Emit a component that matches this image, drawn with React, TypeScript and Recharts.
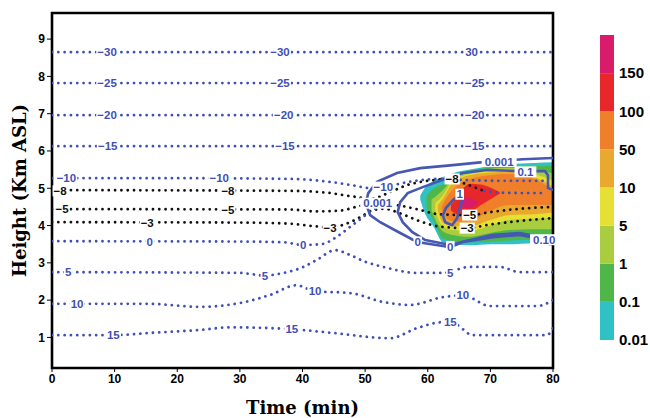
import {
  ComposedChart,
  BarChart,
  Bar,
  Line,
  Area,
  XAxis,
  YAxis,
  ReferenceDot,
  ReferenceArea,
} from 'recharts'

// axis ticks
const timeTicks = [0, 10, 20, 30, 40, 50, 60, 70, 80]
const heightTicks = [1, 2, 3, 4, 5, 6, 7, 8, 9]

// colour bar (bottom -> top)
const barLabels = ['0.01', '0.1', '1', '5', '10', '50', '100', '150']
const barColors = ['#2fc1c4', '#4fb74a', '#a9cd3f', '#e5e033', '#e9a82e', '#ef7f2a', '#e8272a', '#d81b6b']

// isotherms [time, height]
const isoM30 = [[0, 8.65], [80, 8.65]]
const isoM25 = [[0, 7.82], [80, 7.82]]
const isoM20 = [[0, 6.96], [80, 6.96]]
const isoM15 = [[0, 6.13], [80, 6.13]]
const isoM10 = [[0, 5.27], [20, 5.27], [38, 5.25], [44, 5.18], [48, 5.08], [51, 5.0], [52.9, 5.0], [55, 5.1], [58, 5.2], [62, 5.25], [66, 5.22], [72, 5.2], [79, 5.2]]
const isoM8 = [[0, 4.95], [38, 4.93], [44, 4.88], [48, 4.78], [51, 4.72], [54, 4.9], [57, 5.1], [60, 5.2], [63.9, 5.25], [66, 5.12], [69, 4.93]]
const isoM8b = [[69, 4.93], [72, 4.88], [76, 4.87], [79, 4.87]]
const isoM5 = [[0, 4.44], [38, 4.43], [42, 4.38], [46, 4.4], [49, 4.52], [52, 4.6], [55, 4.55], [58, 4.45], [62, 4.3], [66.7, 4.28], [70, 4.36], [74, 4.44], [80, 4.5]]
const isoM3 = [[0, 4.09], [30, 4.08], [38, 4.05], [42, 3.98], [44.4, 3.95], [47, 4.05], [49.5, 4.25], [51, 4.4], [53, 4.45], [56, 4.3], [59, 4.1], [62, 3.97], [66.3, 3.93], [70, 4.03], [75, 4.13], [80, 4.2]]
const iso0 = [[0, 3.58], [30, 3.57], [37, 3.55], [40.1, 3.48], [43, 3.5], [45.5, 3.7], [47.5, 3.95], [49.7, 4.23], [51, 4.4], [53, 4.5]]
const iso5 = [[0, 2.75], [20, 2.74], [30, 2.73], [34, 2.66], [37, 2.73], [40, 2.88], [42.3, 3.08], [45.2, 3.34], [47.6, 3.21], [50, 3.03], [52.9, 2.89], [58.3, 2.73], [62.4, 2.73], [66.7, 2.89], [71.5, 2.89], [74.7, 2.75], [80, 2.75]]
const iso10 = [[0, 1.9], [15.6, 1.9], [23.6, 1.82], [30.8, 1.95], [35, 2.15], [39, 2.4], [42, 2.24], [47.6, 2.19], [52.9, 1.95], [57.2, 1.87], [62.4, 2.08], [65.6, 2.13], [70, 1.84], [77.4, 1.84], [80, 2.0]]
const iso15 = [[0, 1.06], [9.7, 1.06], [15.6, 1.12], [23.6, 1.2], [28.4, 1.27], [38.3, 1.22], [44.9, 1.12], [54, 0.98], [58.3, 1.25], [62.4, 1.41], [64.5, 1.35], [67.2, 1.06], [79, 1.06], [80, 1.25]]

// mixing ratio contours (closed) [time, height]
const cont001 = [[80, 5.81], [75.2, 5.78], [68.8, 5.7], [64, 5.62], [58.8, 5.54], [55.1, 5.41], [51.9, 5.17], [50.5, 4.87], [50.1, 4.6], [50.8, 4.28], [52.4, 4.09], [55.6, 3.8], [58.3, 3.56], [63.6, 3.42], [65.6, 3.56], [70.4, 3.69], [74.7, 3.75], [77.1, 3.67], [80, 3.53]]
const cont01 = [[80, 4.95], [79.2, 5.01], [79.2, 5.35], [78.7, 5.46], [74.7, 5.46], [69.5, 5.49], [65.6, 5.41], [63.6, 5.3], [59.2, 5.03], [56.8, 4.87], [55.6, 4.63], [55.2, 4.36], [56, 4.09], [57.5, 3.83], [59.6, 3.61], [63.6, 3.48], [65.9, 3.58], [70.4, 3.75], [74.7, 3.8], [77.1, 3.72], [80, 3.61]]
const cont1 = [[65.6, 4.9], [64, 4.68], [62.9, 4.47], [62.4, 4.28], [62.8, 4.09], [63.9, 4.01], [64.7, 4.2], [65.1, 4.47], [65.5, 4.68], [65.6, 4.9]]

// shaded bands [time, low, high]
const fill001 = [[58.8, 4.7, 4.8], [59.5, 4.35, 5.0], [61, 3.95, 5.2], [62.4, 3.55, 5.3], [64, 3.5, 5.4], [66.7, 3.47, 5.5], [70, 3.5, 5.6], [73, 3.5, 5.65], [77, 3.52, 5.68], [80, 3.45, 5.7]]
const fill01 = [[59.8, 4.5, 4.8], [61, 4.1, 5.0], [62.4, 3.65, 5.1], [64, 3.58, 5.3], [66.7, 3.55, 5.47], [70, 3.57, 5.55], [73, 3.6, 5.6], [77, 3.62, 5.6], [80, 3.62, 5.6]]
const fill1 = [[60.6, 4.4, 4.7], [62.4, 3.85, 4.95], [64, 3.75, 5.25], [66.7, 3.7, 5.42], [70, 3.8, 5.52], [73, 3.88, 5.55], [77, 3.9, 5.48], [80, 3.9, 5.4]]
const fill5 = [[61.2, 4.4, 4.6], [62.4, 3.98, 4.8], [64, 3.88, 5.2], [66.7, 3.85, 5.38], [70, 4.0, 5.47], [73, 4.15, 5.5], [77, 4.18, 5.38], [80, 4.2, 5.2]]
const fill10 = [[61.6, 4.4, 4.55], [62.4, 4.08, 4.72], [64, 3.98, 5.15], [66.7, 3.98, 5.35], [70, 4.15, 5.42], [73, 4.28, 5.45], [77, 4.3, 5.3], [80, 4.35, 5.05]]
const fill50 = [[62.2, 4.45, 4.5], [63, 4.2, 4.75], [64.5, 4.1, 5.05], [66.7, 4.12, 5.25], [70, 4.4, 5.35], [73, 4.55, 5.38], [77, 4.55, 5.25], [80, 4.55, 4.95]]
const fill100 = [[63.7, 4.4, 4.55], [65, 4.3, 4.85], [66.7, 4.35, 5.12], [68.5, 4.55, 5.1], [70.5, 4.75, 4.98], [71.5, 4.85, 4.9]]
const fill150 = [[65, 4.55, 4.6], [66, 4.48, 4.75], [67, 4.5, 4.72], [68, 4.6, 4.65]]

const BLUE = '#3f50b5'
const BLACK = '#111111'

// contour labels
const tags = [
  { t: 8.8, h: 8.65, text: '−30', c: BLUE }, { t: 36.4, h: 8.65, text: '−30', c: BLUE }, { t: 67, h: 8.65, text: '30', c: BLUE },
  { t: 8.8, h: 7.82, text: '−25', c: BLUE }, { t: 36.4, h: 7.82, text: '−25', c: BLUE }, { t: 67.5, h: 7.82, text: '−25', c: BLUE },
  { t: 8.8, h: 6.96, text: '−20', c: BLUE }, { t: 37, h: 6.96, text: '−20', c: BLUE }, { t: 67.5, h: 6.96, text: '−20', c: BLUE },
  { t: 8.9, h: 6.13, text: '−15', c: BLUE }, { t: 37.2, h: 6.13, text: '−15', c: BLUE }, { t: 67.5, h: 6.13, text: '−15', c: BLUE },
  { t: 2.3, h: 5.29, text: '−10', c: BLUE }, { t: 26.7, h: 5.27, text: '−10', c: BLUE }, { t: 52.9, h: 5.03, text: '−10', c: BLUE },
  { t: 1.3, h: 4.93, text: '−8', c: BLACK }, { t: 28.1, h: 4.94, text: '−8', c: BLACK }, { t: 63.9, h: 5.25, text: '−8', c: BLACK },
  { t: 1.6, h: 4.44, text: '−5', c: BLACK }, { t: 28.1, h: 4.43, text: '−5', c: BLACK }, { t: 66.7, h: 4.28, text: '−5', c: BLACK },
  { t: 15.2, h: 4.08, text: '−3', c: BLACK }, { t: 44.4, h: 3.95, text: '−3', c: BLACK }, { t: 66.3, h: 3.93, text: '−3', c: BLACK },
  { t: 15.6, h: 3.57, text: '0', c: BLUE }, { t: 40.1, h: 3.48, text: '0', c: BLUE }, { t: 58.4, h: 3.56, text: '0', c: BLUE }, { t: 63.6, h: 3.44, text: '0', c: BLUE },
  { t: 2.6, h: 2.75, text: '5', c: BLUE }, { t: 34, h: 2.66, text: '5', c: BLUE }, { t: 63.6, h: 2.73, text: '5', c: BLUE },
  { t: 4.0, h: 1.9, text: '10', c: BLUE }, { t: 42, h: 2.24, text: '10', c: BLUE }, { t: 65.6, h: 2.13, text: '10', c: BLUE },
  { t: 9.8, h: 1.06, text: '15', c: BLUE }, { t: 38.3, h: 1.22, text: '15', c: BLUE }, { t: 63.6, h: 1.41, text: '15', c: BLUE },
  { t: 52, h: 4.6, text: '0.001', c: BLUE }, { t: 71.4, h: 5.72, text: '0.001', c: BLUE }, { t: 75.6, h: 5.44, text: '0.1', c: BLUE },
  { t: 65.1, h: 4.84, text: '1', c: BLUE }, { t: 78.6, h: 3.62, text: '0.10', c: BLUE },
]

const pts = (a: number[][]) => a.map(([t, h]) => ({ t, h }))
const band = (a: number[][]) => a.map(([t, lo, hi]) => ({ t, r: [lo, hi] }))

const dotted = [
  { d: isoM30, c: BLUE }, { d: isoM25, c: BLUE }, { d: isoM20, c: BLUE }, { d: isoM15, c: BLUE },
  { d: isoM10, c: BLUE }, { d: isoM8, c: BLACK }, { d: isoM8b, c: BLUE }, { d: isoM5, c: BLACK },
  { d: isoM3, c: BLACK }, { d: iso0, c: BLUE }, { d: iso5, c: BLUE }, { d: iso10, c: BLUE }, { d: iso15, c: BLUE },
]
const fills = [fill001, fill01, fill1, fill5, fill10, fill50, fill100, fill150]
const contours = [cont001, cont01, cont1]

const Tag = (props: any) => {
  const { cx, cy, text, color } = props
  const w = text.length * 6.6 + 2
  return (
    <g>
      <rect x={cx - w / 2} y={cy - 5.5} width={w} height={11} fill="#fff" />
      <text x={cx} y={cy} dy="0.36em" textAnchor="middle" fontSize={11.5} fontWeight="bold"
        fontFamily="Liberation Sans, Arial, sans-serif" fill={color}>{text}</text>
    </g>
  )
}

const tickStyle = { fill: '#000', fontSize: 12, fontWeight: 'bold', fontFamily: 'Liberation Sans, Arial, sans-serif' }
const titleStyle = { fontFamily: 'DejaVu Serif, serif', fontWeight: 'bold', fontSize: 18, fill: '#000' }

const barRow = [{ name: 'scale', ...Object.fromEntries(barColors.map((_, i) => [`s${i}`, 1])) }]

export default function App() {
  return (
    <div style={{ position: 'absolute', left: 0, top: 0, width: 650, height: 418, background: '#fff' }}>
      <ComposedChart width={650} height={418} margin={{ top: 13, right: 97, bottom: 0, left: 0 }}>
        <XAxis
          type="number"
          dataKey="t"
          domain={[0, 80]}
          ticks={timeTicks}
          allowDataOverflow
          height={50}
          axisLine={false}
          tickSize={4}
          tickLine={{ stroke: '#000' }}
          tick={tickStyle}
          label={{ value: 'Time (min)', position: 'insideBottom', offset: 4, style: titleStyle }}
        />
        <YAxis
          type="number"
          domain={[0.18, 9.7]}
          ticks={heightTicks}
          allowDataOverflow
          width={52}
          axisLine={false}
          tickSize={5}
          tickLine={{ stroke: '#000' }}
          tick={tickStyle}
          label={{ value: 'Height (Km ASL)', angle: -90, position: 'insideLeft', offset: 20, style: { ...titleStyle, textAnchor: 'middle' } }}
        />
        {fills.map((f, i) => (
          <Area
            key={`f${i}`}
            data={band(f)}
            dataKey="r"
            type="monotone"
            stroke="none"
            fill={barColors[i]}
            fillOpacity={1}
            isAnimationActive={false}
          />
        ))}
        {dotted.map((s, i) => (
          <Line
            key={`d${i}`}
            data={pts(s.d)}
            dataKey="h"
            type="monotone"
            stroke={s.c}
            strokeWidth={2.8}
            strokeDasharray="0.01 6.3"
            strokeLinecap="round"
            dot={false}
            activeDot={false}
            isAnimationActive={false}
          />
        ))}
        {contours.map((c, i) => (
          <Line
            key={`c${i}`}
            data={pts(c)}
            dataKey="h"
            type="linear"
            stroke="#4658b2"
            strokeWidth={2.6}
            dot={false}
            activeDot={false}
            isAnimationActive={false}
          />
        ))}
        {tags.map((l, i) => (
          <ReferenceDot
            key={`l${i}`}
            x={l.t}
            y={l.h}
            r={0}
            ifOverflow="visible"
            shape={(p: any) => <Tag {...p} text={l.text} color={l.c} />}
          />
        ))}
        <ReferenceArea x1={0} x2={80} y1={0.18} y2={9.7} fill="none" stroke="#000" strokeWidth={2.6} ifOverflow="visible" />
      </ComposedChart>
      <div style={{ position: 'absolute', left: 600, top: 0 }}>
        <BarChart width={50} height={350} data={barRow} margin={{ top: 35, right: 0, bottom: 10, left: 0 }} barCategoryGap={0}>
          <XAxis dataKey="name" hide />
          <YAxis
            orientation="right"
            type="number"
            domain={[0, 8]}
            ticks={[0, 1, 2, 3, 4, 5, 6, 7]}
            tickFormatter={(v: number) => barLabels[v]}
            width={36}
            axisLine={false}
            tickLine={false}
            tickSize={0}
            tickMargin={5}
            tick={{ ...tickStyle, fontSize: 15, textAnchor: 'start' }}
          />
          {barColors.map((c, i) => (
            <Bar key={c} dataKey={`s${i}`} stackId="a" fill={c} isAnimationActive={false} />
          ))}
        </BarChart>
      </div>
    </div>
  )
}
